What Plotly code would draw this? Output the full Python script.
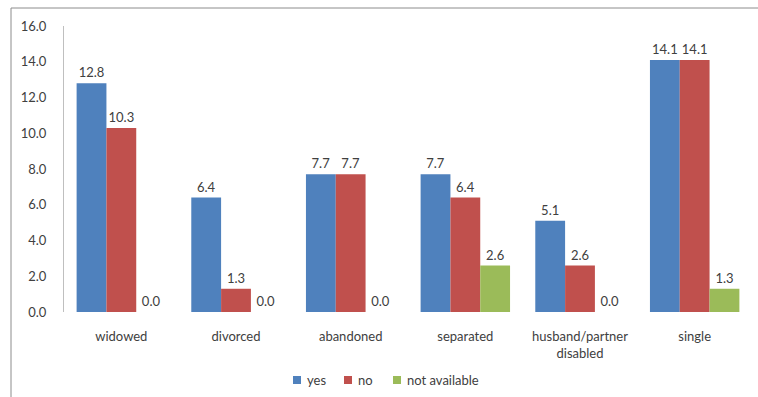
import plotly.graph_objects as go

categories = ["widowed", "divorced", "abandoned", "separated",
              "husband/partner<br>disabled", "single"]
yes_vals = [12.8, 6.4, 7.7, 7.7, 5.1, 14.1]
no_vals = [10.3, 1.3, 7.7, 6.4, 2.6, 14.1]
na_vals = [0.0, 0.0, 0.0, 2.6, 0.0, 1.3]

series = [
    ("yes", yes_vals, "#4F81BD"),
    ("no", no_vals, "#C0504D"),
    ("not available", na_vals, "#9BBB59"),
]

font_family = "Lato, Carlito, 'Liberation Sans', sans-serif"

W, H = 758, 397
M_L, M_R, M_T, M_B = 64, 6, 26, 85
PW, PH = W - M_L - M_R, H - M_T - M_B


def px_x(px):
    return (px - M_L) / PW


def px_y(py):
    return (H - M_B - py) / PH


fig = go.Figure()
for name, vals, color in series:
    fig.add_trace(go.Bar(
        name=name, x=categories, y=vals,
        marker=dict(color=color, line=dict(width=0)),
        text=[f"{v:.1f}" for v in vals],
        textposition="outside",
        textfont=dict(size=13, color="#404040", family=font_family),
        cliponaxis=False,
        showlegend=False,
    ))

fig.update_layout(
    width=W, height=H,
    margin=dict(l=M_L, r=M_R, t=M_T, b=M_B),
    paper_bgcolor="white", plot_bgcolor="white",
    barmode="group", bargap=0.22, bargroupgap=0,
    font=dict(family=font_family, size=13, color="#404040"),
)
fig.update_yaxes(range=[0, 16], dtick=2, tickformat=".1f",
                 showgrid=False, zeroline=False,
                 showline=True, linecolor="#BFBFBF", linewidth=1,
                 ticks="", ticklabelstandoff=14)
fig.update_xaxes(showgrid=False, zeroline=False, showline=False,
                 ticks="", ticklabelstandoff=15)

# Compact horizontal legend below the axis
legend_x = [297, 348, 397]
legend_y = 380
for (name, _, color), lx in zip(series, legend_x):
    fig.add_shape(type="rect", xref="paper", yref="paper",
                  x0=px_x(lx - 4), x1=px_x(lx + 4),
                  y0=px_y(legend_y + 4), y1=px_y(legend_y - 4),
                  fillcolor=color, line=dict(width=0))
    fig.add_annotation(xref="paper", yref="paper",
                       x=px_x(lx + 8), y=px_y(legend_y),
                       xanchor="left", yanchor="middle",
                       text=name, showarrow=False,
                       font=dict(size=13, color="#404040"))

# Outer chart border (left and top edges)
border = dict(color="#8C8C8C", width=1)
fig.add_shape(type="line", xref="paper", yref="paper",
              x0=px_x(11), x1=px_x(11), y0=px_y(8), y1=px_y(H + 20),
              line=border)
fig.add_shape(type="line", xref="paper", yref="paper",
              x0=px_x(11), x1=px_x(W + 20), y0=px_y(8), y1=px_y(8),
              line=border)

fig.write_html("out.html")
